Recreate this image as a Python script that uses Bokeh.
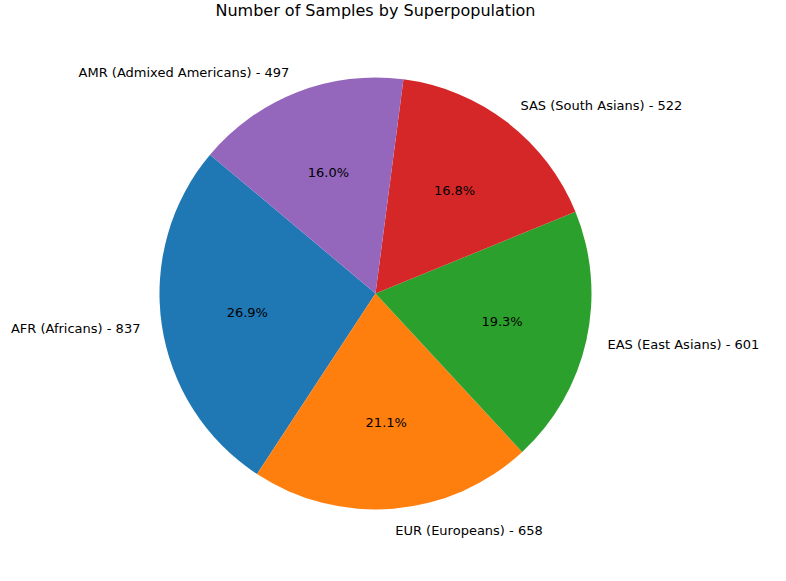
import math
from bokeh.plotting import figure
from bokeh.embed import file_html
from bokeh.resources import INLINE
from bokeh.core.properties import value

labels = ["AFR (Africans)", "EUR (Europeans)", "EAS (East Asians)", "SAS (South Asians)", "AMR (Admixed Americans)"]
counts = [837, 658, 601, 522, 497]
colors = ["#1f77b4", "#ff7f0e", "#2ca02c", "#d62728", "#9467bd"]
start_deg = 140

W, H = 770, 565
cx, cy, r = 375, 272, 216  # pixel centre and radius inside the figure

p = figure(width=W, height=H, output_backend="svg", toolbar_location=None, tools="",
           x_range=(-cx / r, (W - cx) / r), y_range=(-cy / r, (H - cy) / r),
           min_border=0, outline_line_color=None)
p.axis.visible = False
p.grid.visible = False

total = sum(counts)
starts, ends, mids = [], [], []
a = math.radians(start_deg)
for c in counts:
    span = 2 * math.pi * c / total
    starts.append(a)
    ends.append(a + span)
    mids.append(a + span / 2)
    a += span

p.wedge(x=0, y=0, radius=1, start_angle=starts, end_angle=ends, fill_color=colors, line_color=None)

font = value("DejaVu Sans")
pct = ["%.1f%%" % (100 * c / total) for c in counts]
p.text(x=[0.6 * math.cos(m) for m in mids], y=[0.6 * math.sin(m) for m in mids], text=pct,
       text_align="center", text_baseline="middle", text_font=font, text_font_size="13px", text_color="black")

for i, m in enumerate(mids):
    x, y = 1.1 * math.cos(m), 1.1 * math.sin(m)
    p.text(x=[x], y=[y], text=["%s - %d" % (labels[i], counts[i])],
           text_align="left" if x > 0 else "right", text_baseline="middle",
           text_font=font, text_font_size="13px", text_color="black")

p.text(x=[(383 - 8 - cx) / r], y=[(H - (18 - 8) - cy) / r], text=["Number of Samples by Superpopulation"],
       text_align="center", text_baseline="middle", text_font=font, text_font_size="16px", text_color="black")

open("out.html", "w").write(file_html(p, INLINE))
